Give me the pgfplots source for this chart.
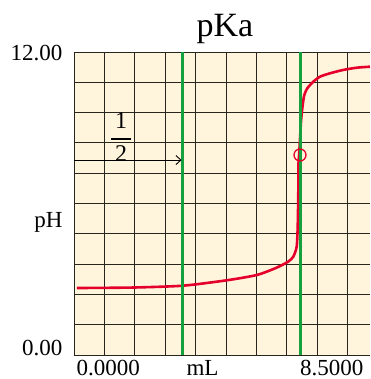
\documentclass[border=0pt]{standalone}
\usepackage{amsmath}
\usepackage{fontspec}
\setmainfont{Liberation Serif}
\usepackage{pgfplots}
\pgfplotsset{compat=1.18}
\usetikzlibrary{arrows.meta}
\definecolor{Cream}{RGB}{255,245,220}
\definecolor{CurveRed}{RGB}{228,0,43}
\definecolor{LineGreen}{RGB}{22,160,62}
\definecolor{GridGray}{RGB}{40,36,30}

\begin{document}
\begin{tikzpicture}
\useasboundingbox (-74pt,-24pt) rectangle (296pt,355pt);
\begin{axis}[
  at={(0pt,0pt)}, anchor=south west,
  scale only axis,
  width=296pt, height=303pt,
  xmin=0, xmax=8.5, ymin=0, ymax=12,
  axis line style={draw=none},
  axis background/.style={fill=Cream},
  xtick={0,0.873,1.746,2.618,3.491,4.364,5.237,6.110,6.982,7.855},
  ytick={0,1.2,2.4,3.6,4.8,6,7.2,8.4,9.6,10.8,12},
  xticklabels={}, yticklabels={},
  major tick length=0pt,
  grid=major,
  grid style={GridGray, line width=0.9pt},
  clip=false,
]
% titration curve (mL, pH)
\addplot[CurveRed, line width=2.6pt, smooth, tension=0.4] coordinates {
  (0.086,2.653) (1.694,2.672) (3.130,2.745) (4.394,2.960) (5.255,3.170)
  (5.821,3.460) (6.154,3.700) (6.297,3.893) (6.395,4.289)
  (6.424,5.081) (6.441,6.416) (6.445,7.525) (6.470,8.051) (6.519,9.240)
  (6.567,9.901) (6.613,10.297) (6.699,10.562) (6.872,10.824) (7.064,11.022)
  (7.351,11.156) (7.725,11.287) (8.118,11.378) (8.5,11.418)
};
% half-equivalence and equivalence volumes
\addplot[LineGreen, line width=3pt] coordinates {(3.13,0) (3.13,12)};
\addplot[LineGreen, line width=3pt] coordinates {(6.51,0) (6.51,12)};
\addplot[only marks, mark=o, mark size=6pt, CurveRed,
  mark options={line width=1.3pt}] coordinates {(6.49,7.92)};
\addplot[black, line width=0.9pt, -{Straight Barb[length=5pt,width=9pt]}]
  coordinates {(0,7.72) (3.09,7.72)};

\node[font=\fontsize{24}{28}\selectfont] at (axis cs:1.35,8.63)
  {$\genfrac{}{}{1.8pt}{0}{\mbox{\,1\,}}{\mbox{\,2\,}}$};
\node[anchor=base, font=\fontsize{34}{40}\selectfont]
  at (rel axis cs:0.51,1) [yshift=15.3pt] {pKa};
\node[anchor=base east, font=\fontsize{23}{27}\selectfont]
  at (axis cs:0,12) [xshift=-8pt, yshift=-8.7pt] {12.00};
\node[anchor=base east, font=\fontsize{23}{27}\selectfont]
  at (axis cs:0,0) [xshift=-8pt, yshift=-0.7pt] {0.00};
\node[anchor=base east, font=\fontsize{23}{27}\selectfont]
  at (axis cs:0,5.03) [xshift=-8pt] {pH};
\node[anchor=base west, font=\fontsize{23}{27}\selectfont]
  at (axis cs:0,0) [xshift=-1pt, yshift=-20pt] {0.0000};
\node[anchor=base, font=\fontsize{23}{27}\selectfont]
  at (axis cs:3.69,0) [yshift=-20pt] {mL};
\node[anchor=base east, font=\fontsize{23}{27}\selectfont]
  at (axis cs:8.5,0) [xshift=-3pt, yshift=-20pt] {8.5000};
\end{axis}
\end{tikzpicture}
\end{document}
